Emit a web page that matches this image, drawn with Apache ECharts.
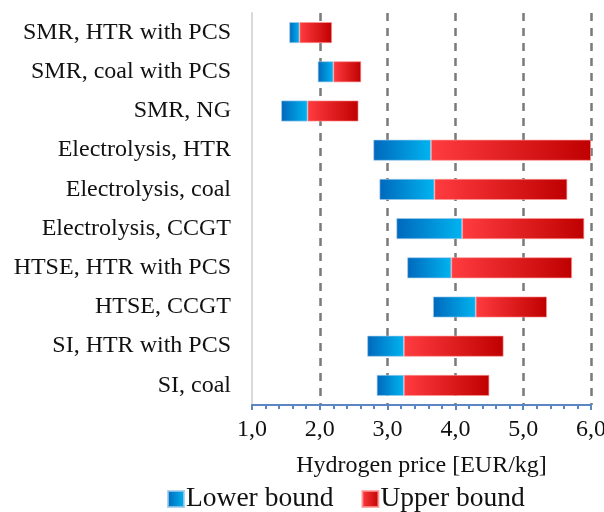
<!DOCTYPE html>
<html>
<head>
<meta charset="utf-8">
<script src="https://cdn.jsdelivr.net/npm/echarts@6/dist/echarts.min.js"></script>
<style>
html,body{margin:0;padding:0;background:#fff;}
#c{width:604px;height:512px;}
</style>
</head>
<body>
<div id="c"></div>
<script>
const categories = ["SMR, HTR with PCS","SMR, coal with PCS","SMR, NG","Electrolysis, HTR","Electrolysis, coal","Electrolysis, CCGT","HTSE, HTR with PCS","HTSE, CCGT","SI, HTR with PCS","SI, coal"];
const startValues = [1.55, 1.97, 1.43, 2.79, 2.88, 3.13, 3.29, 3.67, 2.70, 2.84];
const lowerBound = [1.70, 2.20, 1.82, 3.64, 3.69, 4.10, 3.94, 4.30, 3.24, 3.24];
const upperBound = [2.18, 2.61, 2.57, 6.00, 5.65, 5.90, 5.72, 5.35, 4.71, 4.50];
const xTickLabels = ["1,0","2,0","3,0","4,0","5,0","6,0"];

const lowerSeg = lowerBound.map((v,i)=>+(v-startValues[i]).toFixed(3));
const upperSeg = upperBound.map((v,i)=>+(v-lowerBound[i]).toFixed(3));

const serif = '"Liberation Serif", "Times New Roman", serif';
const blueGrad = new echarts.graphic.LinearGradient(0,0,1,0,[{offset:0,color:'#0068bc'},{offset:1,color:'#00b4f0'}]);
const redGrad = new echarts.graphic.LinearGradient(0,0,1,0,[{offset:0,color:'#ff3c40'},{offset:1,color:'#bf0000'}]);

const chart = echarts.init(document.getElementById('c'), null, {renderer:'canvas'});
chart.setOption({
  animation:false,
  grid:{left:252, right:13, top:13, bottom:107, containLabel:false, outerBoundsMode:'none'},
  legend:{
    left:167, top:485, padding:0, itemWidth:16, itemHeight:16, itemGap:28, icon:'rect',
    data:['Lower bound','Upper bound'],
    textStyle:{fontFamily:serif, fontSize:27.5, color:'#111', padding:[0,0,0,-3]}
  },
  xAxis:{
    type:'value', min:1, max:6, interval:1,
    name:'Hydrogen price [EUR/kg]', nameLocation:'middle', nameGap:49,
    nameTextStyle:{fontFamily:serif, fontSize:24, color:'#111'},
    axisLine:{show:true, lineStyle:{color:'#5b86c4', width:2}},
    axisTick:{show:true, length:5, lineStyle:{color:'#5b86c4', width:2}},
    minorTick:{show:true, splitNumber:5, length:4, lineStyle:{color:'#5b86c4', width:2}},
    axisLabel:{fontFamily:serif, fontSize:24, color:'#111', margin:13,
      formatter:(v)=>xTickLabels[Math.round(v-1)]},
    splitLine:{show:true, lineStyle:{type:[8,7], width:2.5,
      color:['rgba(0,0,0,0)','#7a7a7a','#7a7a7a','#7a7a7a','#7a7a7a','#7a7a7a']}}
  },
  yAxis:{
    type:'category', data:categories, inverse:true,
    axisLine:{show:true, lineStyle:{color:'#d9d9d9', width:2}},
    axisTick:{show:false},
    axisLabel:{fontFamily:serif, fontSize:24, color:'#111', margin:21}
  },
  series:[
    {name:'base', type:'bar', stack:'s', data:startValues, barWidth:21,
     itemStyle:{color:'rgba(0,0,0,0)'}, silent:true},
    {name:'Lower bound', type:'bar', stack:'s', data:lowerSeg, barWidth:21,
     itemStyle:{color:blueGrad, borderColor:'rgba(160,200,235,0.8)', borderWidth:0.8}},
    {name:'Upper bound', type:'bar', stack:'s', data:upperSeg, barWidth:21,
     itemStyle:{color:redGrad, borderColor:'rgba(255,150,150,0.8)', borderWidth:0.8}}
  ]
});
</script>
</body>
</html>
